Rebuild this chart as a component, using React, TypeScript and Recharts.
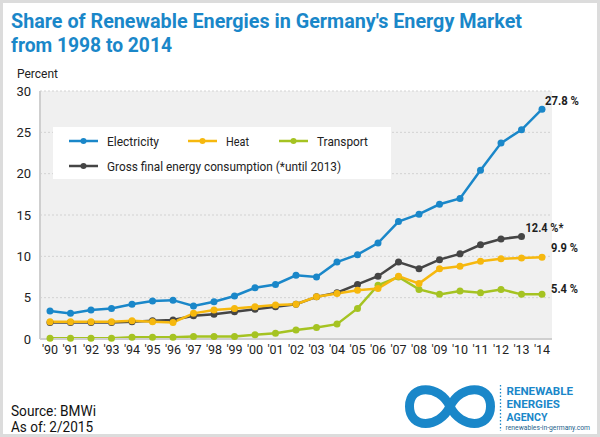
import { LineChart, Line, XAxis, YAxis, CartesianGrid } from 'recharts'

const years = ["'90", "'91", "'92", "'93", "'94", "'95", "'96", "'97", "'98", "'99", "'00", "'01", "'02", "'03", "'04", "'05", "'06", "'07", "'08", "'09", "'10", "'11", "'12", "'13", "'14"]
const electricity = [3.4, 3.1, 3.5, 3.7, 4.2, 4.6, 4.7, 4.0, 4.5, 5.2, 6.2, 6.6, 7.7, 7.5, 9.3, 10.2, 11.6, 14.2, 15.1, 16.3, 17.0, 20.4, 23.7, 25.3, 27.8]
const heat = [2.1, 2.1, 2.1, 2.1, 2.2, 2.1, 2.0, 3.1, 3.5, 3.7, 3.9, 4.1, 4.2, 5.1, 5.5, 5.9, 6.1, 7.6, 6.7, 8.5, 8.8, 9.4, 9.7, 9.8, 9.9]
const transport = [0.1, 0.1, 0.1, 0.1, 0.2, 0.2, 0.2, 0.3, 0.3, 0.3, 0.5, 0.7, 1.1, 1.4, 1.8, 3.7, 6.5, 7.5, 6.0, 5.4, 5.8, 5.6, 6.0, 5.4, 5.4]
const grossFinal = [2.0, 2.0, 2.0, 2.0, 2.1, 2.2, 2.3, 2.8, 3.0, 3.3, 3.6, 3.9, 4.2, 5.1, 5.6, 6.6, 7.6, 9.3, 8.5, 9.6, 10.3, 11.4, 12.1, 12.4, null]
const yTicks = [0, 5, 10, 15, 20, 25, 30]

const data = years.map((year, i) => ({
  year,
  electricity: electricity[i],
  heat: heat[i],
  transport: transport[i],
  gross: grossFinal[i],
}))

const BLUE = '#1a87c9'
const YELLOW = '#f6b80e'
const GREEN = '#a5c322'
const GREY = '#454545'
const FONT = 'Roboto, "Noto Sans", sans-serif'

const legendItems = [
  { name: 'Electricity', color: BLUE, x: 69, y: 141, w: 52 },
  { name: 'Heat', color: YELLOW, x: 188, y: 141, w: 23 },
  { name: 'Transport', color: GREEN, x: 279, y: 141, w: 51 },
  { name: 'Gross final energy consumption (*until 2013)', color: GREY, x: 69, y: 166, w: 234 },
]

// text squeezed to the width it has in the reference (the original uses a narrow DIN face)
const T = ({ x, y, w, size, bold, color = '#222', children }: any) => (
  <text x={x} y={y} textLength={w} lengthAdjust="spacingAndGlyphs" fontSize={size} fontWeight={bold ? 'bold' : 'normal'} fill={color} fontFamily={FONT}>
    {children}
  </text>
)

// label only at the last drawn point of a series
const endLabel = (text: string, lastIndex: number, dx: number, dy: number, w: number) => (props: any) => {
  const { x, y, index } = props
  if (index !== lastIndex || y == null) return null
  return (
    <text x={x + dx} y={y + dy} textLength={w} lengthAdjust="spacingAndGlyphs" fill="#1e1e1e" fontSize={13} fontWeight="bold" fontFamily={FONT}>
      {text}
    </text>
  )
}

export default function App() {
  const dot = (color: string) => ({ r: 3.5, fill: color, stroke: color, strokeWidth: 0 })
  return (
    <div style={{ position: 'absolute', left: 0, top: 0, width: 600, height: 437, background: '#fff', overflow: 'hidden', fontFamily: FONT }}>
      <div style={{ position: 'absolute', left: 0, top: 0, width: 600, height: 437 }}>
        <LineChart width={600} height={437} data={data} margin={{ top: 91, right: 48, bottom: 78, left: 0 }}>
          <CartesianGrid vertical={false} fill="#f0f0f0" stroke="#d2d2d2" strokeDasharray="2 2" />
          <XAxis
            dataKey="year"
            height={20}
            padding={{ left: 10, right: 10 }}
            tickLine={false}
            tickSize={0}
            tickMargin={6}
            interval={0}
            axisLine={{ stroke: '#cfcfcf', strokeWidth: 2 }}
            tick={{ fill: '#222', fontSize: 12.5, fontFamily: FONT }}
          />
          <YAxis
            width={40}
            domain={[0, 30]}
            ticks={yTicks}
            tickLine={false}
            tickSize={0}
            tickMargin={9}
            axisLine={{ stroke: '#cfcfcf', strokeWidth: 2 }}
            tick={{ fill: '#222', fontSize: 13, fontFamily: FONT }}
          />
          <Line dataKey="gross" stroke={GREY} strokeWidth={2.5} dot={dot(GREY)} activeDot={false} isAnimationActive={false} label={endLabel('12.4 %*', 23, 4, -4, 38)} />
          <Line dataKey="transport" stroke={GREEN} strokeWidth={2.5} dot={dot(GREEN)} activeDot={false} isAnimationActive={false} label={endLabel('5.4 %', 24, 9, -1, 27)} />
          <Line dataKey="heat" stroke={YELLOW} strokeWidth={2.5} dot={dot(YELLOW)} activeDot={false} isAnimationActive={false} label={endLabel('9.9 %', 24, 9, -5, 27)} />
          <Line dataKey="electricity" stroke={BLUE} strokeWidth={2.5} dot={dot(BLUE)} activeDot={false} isAnimationActive={false} label={endLabel('27.8 %', 24, 3, -4, 34)} />
        </LineChart>
      </div>

      <svg style={{ position: 'absolute', left: 0, top: 0 }} width={600} height={437}>
        <T x={11} y={28} w={511} size={20.5} bold color={BLUE}>Share of Renewable Energies in Germany's Energy Market</T>
        <T x={11} y={52} w={161} size={20.5} bold color={BLUE}>from 1998 to 2014</T>
        <T x={17} y={78} w={41} size={13.5}>Percent</T>

        <rect x={53} y={127} width={338} height={52} fill="#fff" />
        {legendItems.map((item) => (
          <g key={item.name}>
            <line x1={item.x} y1={item.y} x2={item.x + 12} y2={item.y} stroke={item.color} strokeWidth={2.5} />
            <line x1={item.x + 17} y1={item.y} x2={item.x + 29} y2={item.y} stroke={item.color} strokeWidth={2.5} />
            <circle cx={item.x + 14.5} cy={item.y} r={3} fill={item.color} />
            <T x={item.x + 38} y={item.y + 4.5} w={item.w} size={13}>{item.name}</T>
          </g>
        ))}

        <T x={11} y={416} w={85} size={14.5} color="#111">Source: BMWi</T>
        <T x={11} y={432} w={82} size={14.5} color="#111">As of: 2/2015</T>

        <path
          d="M450 406.5 C439 384 409.5 384 409.5 406.5 C409.5 429 439 429 450 406.5 C461 384 490.5 384 490.5 406.5 C490.5 429 461 429 450 406.5 Z"
          fill="none"
          stroke={BLUE}
          strokeWidth={9}
        />
        <line x1={500.5} y1={385} x2={500.5} y2={431} stroke={BLUE} strokeWidth={1.3} strokeDasharray="1.5 2" />
        <T x={506.5} y={394.5} w={66.5} size={11} bold color={BLUE}>RENEWABLE</T>
        <T x={506.5} y={407.5} w={53.5} size={11} bold color={BLUE}>ENERGIES</T>
        <T x={506.5} y={420.5} w={41} size={11} bold color={BLUE}>AGENCY</T>
        <T x={505.5} y={430} w={84.5} size={6.5} color="#1d5f8c">renewables-in-germany.com</T>
      </svg>

      <div style={{ position: 'absolute', left: 0, top: 0, width: 600, height: 437, boxSizing: 'border-box', border: '3px solid #dcdcdc', pointerEvents: 'none' }} />
    </div>
  )
}
